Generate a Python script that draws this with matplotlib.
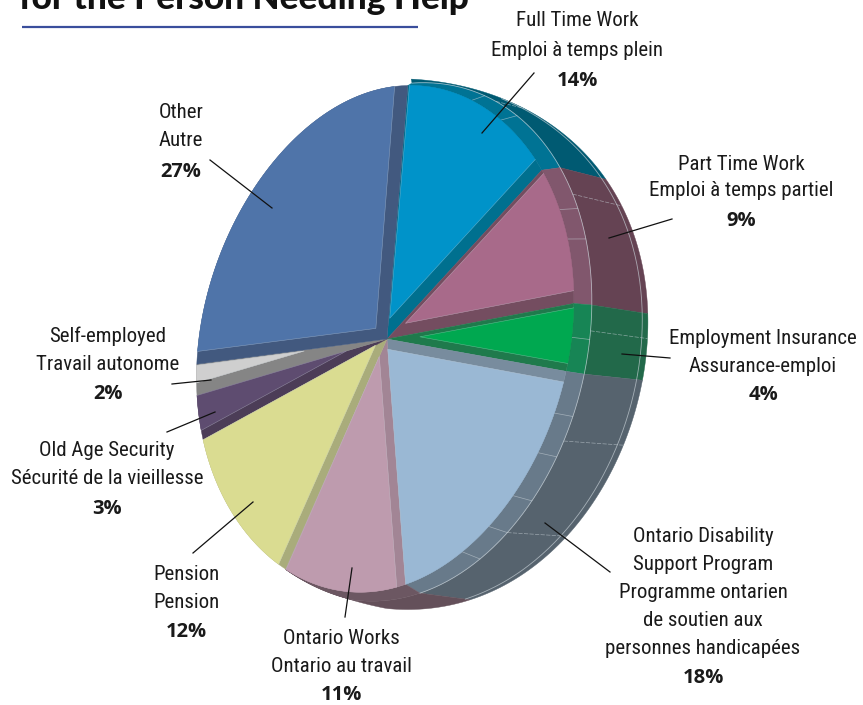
import numpy as np
import matplotlib
matplotlib.use('Agg')
import matplotlib.pyplot as plt
from matplotlib.patches import Polygon

# Share of respondents by main income source, clockwise from the top
sources = ['Full Time Work', 'Part Time Work', 'Employment Insurance',
           'Ontario Disability Support Program', 'Ontario Works', 'Pension',
           'Old Age Security', 'Self-employed', 'Other']
values = [14, 9, 4, 18, 11, 12, 3, 2, 27]

label_lines = [
    ['Full Time Work', 'Emploi à temps plein'],
    ['Part Time Work', 'Emploi à temps partiel'],
    ['Employment Insurance', 'Assurance-emploi'],
    ['Ontario Disability', 'Support Program', 'Programme ontarien',
     'de soutien aux', 'personnes handicapées'],
    ['Ontario Works', 'Ontario au travail'],
    ['Pension', 'Pension'],
    ['Old Age Security', 'Sécurité de la vieillesse'],
    ['Self-employed', 'Travail autonome'],
    ['Other', 'Autre'],
]

# Colours per slice: top face, inner side wall, bevel band, outer wall
face_colors = ['#0093C9', '#A86A8A', '#00A850', '#9AB8D4', '#BE9BAE',
               '#DADC91', '#5E4C70', '#CFCFCF', '#4F74A9']
wall_colors = ['#00708F', '#744D60', '#1F7A4C', '#788C9E', '#A28595',
               '#A9AC7B', '#4C3D57', '#858585', '#42597F']
band_colors = ['#007394', '#81576D', '#178555', '#687A8A', '#6C5762',
               '#A9AC7B', '#4C3D57', '#858585', '#42597F']
outer_colors = ['#005A72', '#654353', '#22694A', '#56636E', '#64505A',
                '#A9AC7B', '#4C3D57', '#858585', '#42597F']

# Inner wall width on the leading and trailing edge of each slice
wall_start = [1, 3, 4, 10, 9, 8, 9, 12, 12]
wall_end = [12, 12, 8, 0, 0, 0, 0, 1, 12]

# Slices whose outer rim faces the viewer
rim_slices = 5

# Label anchors: centre x and the y of every text line, ending with the percentage
label_x = [577, 741, 763, 703, 341, 186, 107, 108, 181]
label_y = [[21, 50, 81], [164, 191, 221], [339, 366, 395],
           [537, 565, 592, 620, 648, 678], [638, 666, 695],
           [575, 603, 632], [451, 478, 509], [336, 365, 394], [113, 141, 172]]

leaders = [((534, 73), (482, 133)), ((672, 219), (609, 238)),
           ((670, 358), (622, 354)), ((545, 523), (610, 572)),
           ((352, 568), (345, 617)), ((253, 502), (193, 553)),
           ((215, 412), (167, 432)), ((211, 380), (172, 384)),
           ((272, 208), (210, 160))]

# Pie projection as a short Fourier series: centre, then (cos, sin) pairs per harmonic
HUB = np.array([387.0, 339.0])
FACE = [(382.0, 336.8), (30.5, -255.1), (183.3, 3.2), (-3.7, 1.8), (-1.1, -4.9),
        (-0.9, 2.0), (-2.7, 0.9)]
BAND = [(389.2, 339.4), (26.9, -258.7), (196.4, 2.5), (-4.1, 2.4), (1.7, -8.5)]
OUTER = [(393.6, 337.9), (8.5, -265.0), (262.5, 15.2), (9.2, 6.2), (6.5, -0.2)]

# Fractions of the pie where seams cross the rim
band_seams = [.06, .09, .17, .19, .25, .295, .32, .35, .375, .40]
outer_seams = [.07, .16, .245, .31, .375]

SEAM = '#C9D2D8'
TEXT = '#1A1A1A'
LABEL_FONT = ['Roboto Condensed', 'Roboto']
VALUE_FONT = ['Open Sans']
TITLE_FONT = 'Lato'


def project(frac, curve):
    t = 2 * np.pi * np.atleast_1d(np.asarray(frac, float))
    pts = np.tile(np.array(curve[0], float), (t.size, 1))
    for k in range(1, (len(curve) - 1) // 2 + 1):
        pts += np.outer(np.cos(k * t), curve[2 * k - 1])
        pts += np.outer(np.sin(k * t), curve[2 * k])
    return pts


def rim(frac, curve):
    """Rim curve that narrows back to the top face on the far lower-left."""
    frac = np.atleast_1d(frac)
    w = np.clip((0.565 - frac) / 0.06, 0, 1)[:, None]
    base = project(frac, FACE)
    return base + w * (project(frac, curve) - base)


def inset_face(f0, f1, ws, we):
    """Top face of a slice with its two radial edges moved inward."""
    fr = np.linspace(f0, f1, 200)
    arc = project(fr, FACE)
    p0, p1 = arc[0] - HUB, arc[-1] - HUB
    n0 = np.array([-p0[1], p0[0]]) / np.hypot(*p0)
    n1 = np.array([p1[1], -p1[0]]) / np.hypot(*p1)
    if np.dot(n0, p1) < 0:
        n0 = -n0
    if np.dot(n1, p0) < 0:
        n1 = -n1
    keep = ((arc - HUB) @ n0 >= ws) & ((arc - HUB) @ n1 >= we)
    apex = HUB + np.linalg.solve(np.array([n0, n1]), [ws, we])
    return np.vstack([apex, arc[keep]])


fig = plt.figure(figsize=(8.63, 7.05), dpi=100, facecolor='white')
ax = fig.add_axes([0, 0, 1, 1])
ax.set_xlim(0, 863)
ax.set_ylim(705, 0)
ax.axis('off')

# Heading, cut by the top of the page, and its rule
ax.text(19, 9, 'for the Person Needing Help', family=TITLE_FONT, weight='black',
        fontsize=25.4, color='#111111', ha='left', va='baseline')
ax.plot([22, 418], [27, 27], color='#3A4E9C', lw=1.6, solid_capstyle='butt')

edges = np.concatenate([[0], np.cumsum(values)]) / sum(values)

# Outer rim first, so that the top faces cover it
for i in range(rim_slices):
    fr = np.linspace(edges[i], edges[i + 1], 60)
    ax.add_patch(Polygon(np.vstack([rim(fr, OUTER), rim(fr[::-1], BAND)]),
                         fc=outer_colors[i], ec=outer_colors[i], lw=.3, zorder=2))
    ax.add_patch(Polygon(np.vstack([rim(fr, BAND), project(fr[::-1], FACE)]),
                         fc=band_colors[i], ec=band_colors[i], lw=.3, zorder=3))

# Pale seams on the rim
fr = np.linspace(edges[0], edges[rim_slices - 1], 240)
outer_pts, band_pts = rim(fr, OUTER), rim(fr, BAND)
ax.plot(*band_pts.T, color=SEAM, lw=.6, alpha=.7, zorder=4)
ring = band_pts + .9 * (outer_pts - band_pts)
ax.plot(*ring[30:].T, color=SEAM, lw=.6, alpha=.7, zorder=4)
for f in band_seams:
    seg = np.vstack([project([f], FACE), rim([f], BAND)])
    ax.plot(*seg.T, color=SEAM, lw=.5, alpha=.6, zorder=4)
for f in outer_seams:
    seg = np.vstack([rim([f], BAND), rim([f], OUTER)])
    ax.plot(*seg.T, color=SEAM, lw=.5, alpha=.6, zorder=4, ls=(0, (6, 2)))

# Slices: inner walls under the inset top faces
for i in range(len(values)):
    fr = np.linspace(edges[i], edges[i + 1], 200)
    ax.add_patch(Polygon(np.vstack([HUB, project(fr, FACE)]),
                         fc=wall_colors[i], ec=wall_colors[i], lw=.3, zorder=5))
    face = inset_face(edges[i], edges[i + 1], wall_start[i], wall_end[i])
    ax.add_patch(Polygon(face, fc=face_colors[i], ec=face_colors[i], lw=.3, zorder=6))
    if wall_end[i] or wall_start[i] > 5:
        ends = np.vstack([face[-1], face[0], face[1]])
        ax.plot(*ends.T, color=SEAM, lw=.4, alpha=.45, zorder=7)

# Leader lines and labels
for (a, b) in leaders:
    ax.plot([a[0], b[0]], [a[1], b[1]], color='#111111', lw=.9, zorder=8)

for i, lines in enumerate(label_lines):
    for line, y in zip(lines, label_y[i][:-1]):
        ax.text(label_x[i], y, line, family=LABEL_FONT, fontsize=15,
                color=TEXT, ha='center', va='center', zorder=9)
    ax.text(label_x[i], label_y[i][-1], f'{values[i]}%', family=VALUE_FONT, weight='bold',
            fontsize=14.5, color=TEXT, ha='center', va='center', zorder=9)

fig.savefig('out.png', dpi=100, facecolor='white')
